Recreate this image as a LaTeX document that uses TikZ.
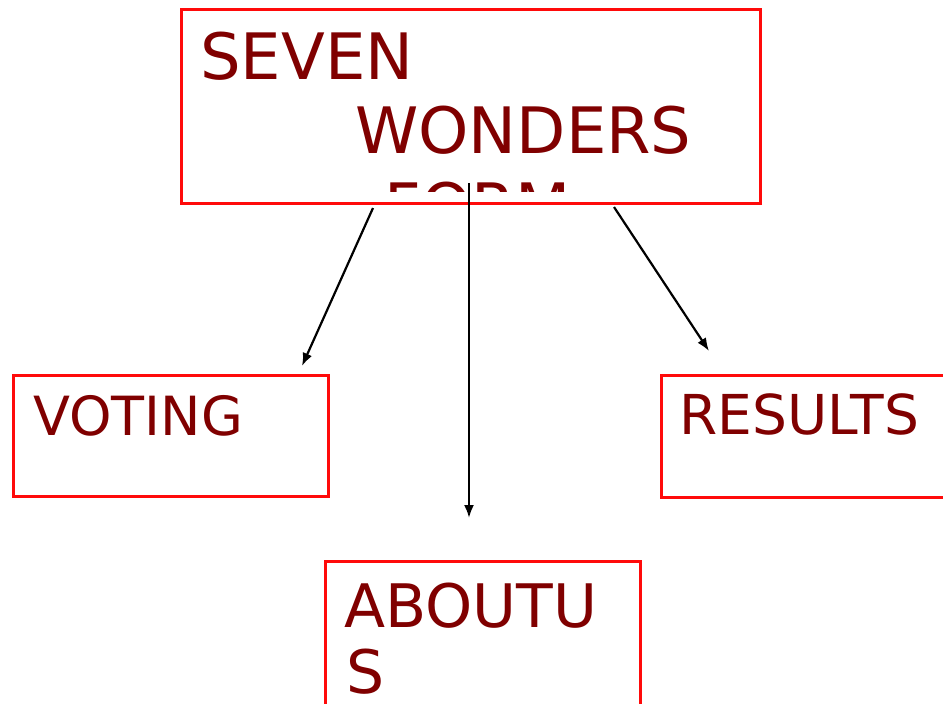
\documentclass[tikz,border=0pt]{standalone}
\usepackage{fontspec}
\setmainfont{DejaVu Sans}
\usetikzlibrary{arrows.meta}
\definecolor{boxred}{HTML}{FF0A0A}
\definecolor{txtred}{HTML}{800000}
\tikzset{
  box/.style={draw=boxred, line width=2.7pt, rectangle, inner sep=0pt, anchor=north west},
  lbl/.style={text=txtred, inner sep=0pt, anchor=base west},
  conn/.style={line width=2.2pt, -{Latex[length=13pt,width=10pt]}}
}
\begin{document}
\begin{tikzpicture}[x=1pt,y=-1pt]
\clip (0,0) rectangle (943,704);
\fill[white] (0,0) rectangle (943,704);
% boxes
\node[box, minimum width=579pt, minimum height=194pt] (top) at (180,8) {};
\node[box, minimum width=315pt, minimum height=121pt] (voting) at (12,374) {};
\node[box, minimum width=320pt, minimum height=122pt] (results) at (660,374) {};
\node[box, minimum width=315pt, minimum height=160pt] (about) at (324,560) {};
% texts
\node[lbl, font=\fontsize{64}{70}\selectfont] (t1) at (200,79) {SEVEN};
\node[lbl, font=\fontsize{64}{70}\selectfont] (t2) at (355,153) {WONDERS};
\begin{scope}
\clip (182,10) rectangle (757,191);
\node[lbl, font=\fontsize{64}{70}\selectfont] (t3) at (384,229) {FORM};
\end{scope}
\node[lbl, font=\fontsize{54}{60}\selectfont] (tv) at (33,435) {VOTING};
\node[lbl, font=\fontsize{55}{60}\selectfont] (tr) at (679,434) {RESULTS};
\node[lbl, font=\fontsize{60}{66}\selectfont] (ta1) at (344,627) {ABOUTU};
\node[lbl, font=\fontsize{60}{66}\selectfont] (ta2) at (346,693) {S};
% connector ends
\coordinate (s1) at (373,208);
\coordinate (e1) at (302,366);
\coordinate (s2) at (469,183);
\coordinate (e2) at (469,518);
\coordinate (s3) at (614,207);
\coordinate (e3) at (709,351);
\draw[conn] (s1) -- (e1);
\draw[conn] (s2) -- (e2);
\draw[conn] (s3) -- (e3);
\end{tikzpicture}
\end{document}
